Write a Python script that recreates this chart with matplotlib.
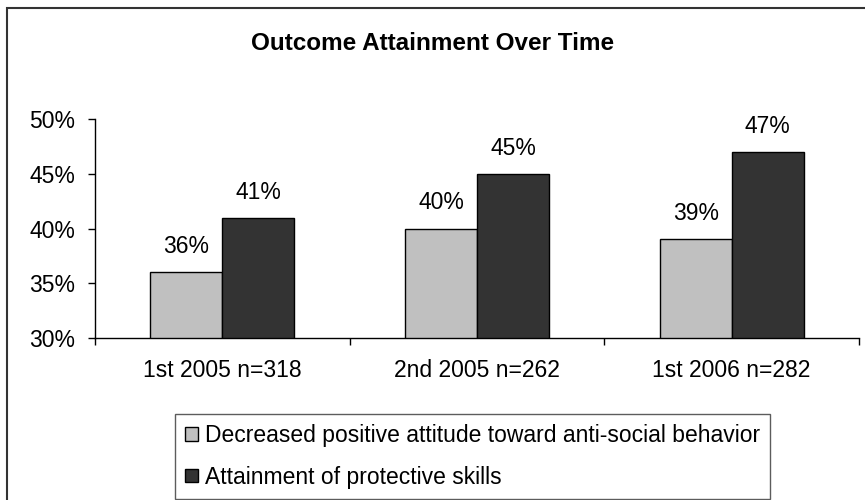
import matplotlib
matplotlib.use("Agg")
import matplotlib.pyplot as plt
import numpy as np
from matplotlib.patches import Rectangle
from matplotlib.ticker import FuncFormatter, FixedLocator

plt.rcParams['font.family'] = ['Liberation Sans', 'DejaVu Sans']

# Data
groups = ['1st 2005 n=318', '2nd 2005 n=262', '1st 2006 n=282']
series_names = ['Decreased positive attitude toward anti-social behavior',
                'Attainment of protective skills']
attitude = [36, 40, 39]
skills = [41, 45, 47]
y_ticks = [30, 35, 40, 45, 50]

FS = 16.5

fig = plt.figure(figsize=(8.65, 5.0), dpi=100)
ax = fig.add_axes([95 / 865, 1 - 338 / 500, (859 - 95) / 865, (338 - 119) / 500])

x = np.arange(len(groups))
width = 0.283
bars1 = ax.bar(x - width / 2, attitude, width, color='#c0c0c0', edgecolor='black',
               linewidth=1.0, label=series_names[0])
bars2 = ax.bar(x + width / 2, skills, width, color='#333333', edgecolor='black',
               linewidth=1.0, label=series_names[1])

# value labels above bars
for bars in (bars1, bars2):
    for b in bars:
        ax.annotate(f'{b.get_height():.0f}%', (b.get_x() + b.get_width() / 2, b.get_height()),
                    xytext=(0, 13.7), textcoords='offset points', ha='center',
                    va='baseline', fontsize=FS)

ax.set_ylim(30, 50)
ax.set_xlim(-0.5, len(groups) - 0.5)
ax.set_yticks(y_ticks)
ax.yaxis.set_major_formatter(FuncFormatter(lambda v, p: f'{v:.0f}%'))
ax.tick_params(axis='y', labelsize=FS, length=5, width=1, direction='out', pad=9)

# x ticks at group boundaries, labels centered on groups
ax.xaxis.set_major_locator(FixedLocator(np.arange(len(groups) + 1) - 0.5))
ax.xaxis.set_minor_locator(FixedLocator(x))
ax.set_xticklabels([])
ax.set_xticklabels(groups, minor=True)
ax.tick_params(axis='x', which='major', length=5, width=1, direction='out')
ax.tick_params(axis='x', which='minor', length=0, labelsize=FS, pad=15)

for s in ['top', 'right']:
    ax.spines[s].set_visible(False)
for s in ['left', 'bottom']:
    ax.spines[s].set_color('black')
    ax.spines[s].set_linewidth(1)

fig.text(0.5, 1 - 44 / 500, 'Outcome Attainment Over Time', ha='center', va='center',
         fontsize=17.5, fontweight='bold')

leg = fig.legend(handles=[bars1, bars2], loc='upper left',
                 bbox_to_anchor=(175 / 865, 1 - 414 / 500), fontsize=FS,
                 frameon=True, fancybox=False, handlelength=0.55, handleheight=0.55,
                 handletextpad=0.3, borderpad=0.45, labelspacing=0.8, borderaxespad=0)
leg.get_frame().set_edgecolor('#333333')
leg.get_frame().set_linewidth(1.0)

# outer chart frame (left and top edges visible)
fig.patches.append(Rectangle((7 / 865, -0.2), 1.2, 1.2 - 8 / 500, transform=fig.transFigure,
                             fill=False, edgecolor='#333333', linewidth=1.5))

fig.savefig('out.png', dpi=100)
